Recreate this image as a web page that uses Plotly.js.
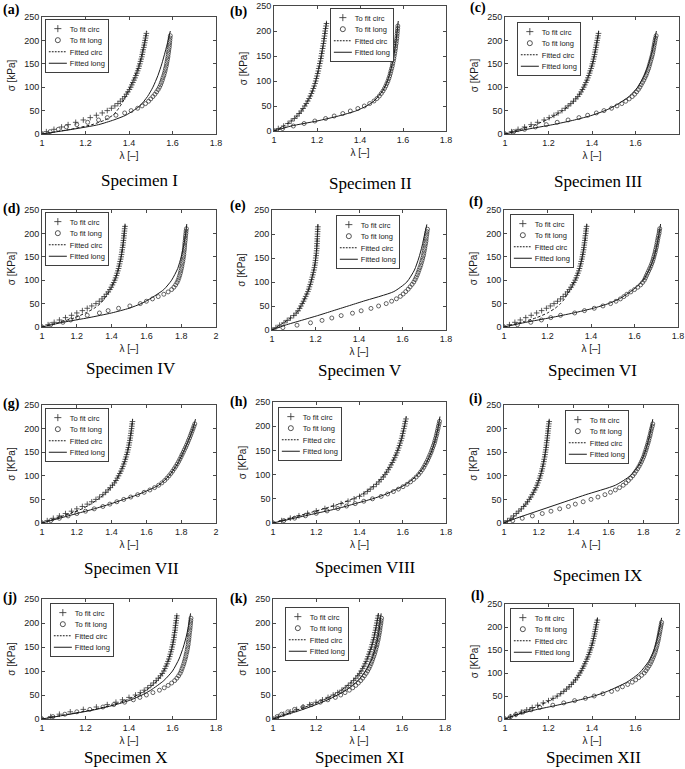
<!DOCTYPE html>
<html><head><meta charset="utf-8">
<script src="https://cdn.plot.ly/plotly-3.0.1.min.js"></script>
<style>html,body{margin:0;padding:0;background:#fff}#chart{width:685px;height:769px}</style>
</head><body><div id="chart"></div>
<script>
// stress levels (kPa) of the experimental samples and of the fitted curves
const circStress = [0,5,10,15,20,25,30,35,40,45,50,55,60,65,70,75,80,85,90,95,100,105,110,115,120,125,130,135,140,145,150,155,160,165,170,175,180,185,190,195,200,205,210,215];
const longStress = [0,5,10,15,20,25,30,35,40,45,50,55,60,65,70,75,80,85,90,95,100,105,110,115,120,125,130,135,140,145,150,155,160,165,170,175,180,185,190,195,200,205,210];
const fitStress  = [0,10,20,30,40,50,60,80,100,125,150,175,200,220];

const specimenNames = ['Specimen I','Specimen II','Specimen III','Specimen IV','Specimen V','Specimen VI',
  'Specimen VII','Specimen VIII','Specimen IX','Specimen X','Specimen XI','Specimen XII'];
const panelLetters = ['(a)','(b)','(c)','(d)','(e)','(f)','(g)','(h)','(i)','(j)','(k)','(l)'];
const yTitles = ['σ [kPa]','σ [KPa]','σ [KPa]','σ [KPa]','σ [KPa]','σ [KPa]','σ [KPa]','σ [KPa]','σ [KPa]','σ [KPa]','σ [KPa]','σ [KPa]'];
const xTitle = 'λ [–]';
const xUpper = [1.8,1.8,1.8,2,1.8,1.8,2,1.8,2,1.8,1.8,1.8];
const legendNames = ['To fit circ','To fit long','Fitted circ','Fitted long'];

// stretch λ at the stress levels above
const circA = [1,1.02,1.055,1.09,1.12,1.155,1.19,1.222,1.25,1.277,1.3,1.319,1.335,1.349,1.36,1.371,1.38,1.388,1.395,1.402,1.408,1.413,1.418,1.423,1.428,1.432,1.436,1.44,1.444,1.447,1.45,1.453,1.456,1.459,1.461,1.463,1.465,1.468,1.47,1.472,1.474,1.476,1.478,1.48];
const longA = [1,1.037,1.075,1.112,1.16,1.21,1.26,1.3,1.34,1.38,1.41,1.44,1.46,1.476,1.49,1.5,1.51,1.519,1.527,1.534,1.54,1.545,1.549,1.553,1.556,1.56,1.563,1.566,1.568,1.571,1.573,1.575,1.577,1.579,1.58,1.582,1.583,1.585,1.586,1.587,1.588,1.589,1.59];
const fitCircA = [1,1.13,1.23,1.29,1.325,1.345,1.36,1.385,1.405,1.428,1.447,1.462,1.474,1.482];
const fitLongA = [1,1.14,1.26,1.33,1.385,1.42,1.45,1.485,1.51,1.533,1.551,1.566,1.58,1.59];

const circB = [1,1.02,1.045,1.065,1.08,1.095,1.107,1.117,1.127,1.135,1.143,1.15,1.157,1.163,1.169,1.174,1.179,1.183,1.187,1.191,1.194,1.197,1.2,1.203,1.206,1.208,1.211,1.213,1.216,1.218,1.22,1.222,1.224,1.226,1.228,1.23,1.232,1.233,1.235,1.237,1.238,1.24,1.242,1.244];
const longB = [1,1.04,1.09,1.14,1.19,1.24,1.28,1.32,1.355,1.39,1.42,1.445,1.465,1.479,1.49,1.499,1.507,1.514,1.52,1.525,1.53,1.534,1.538,1.541,1.544,1.547,1.55,1.552,1.555,1.557,1.559,1.561,1.563,1.565,1.566,1.568,1.569,1.571,1.572,1.573,1.574,1.575,1.576];
const fitCircB = [1,1.045,1.08,1.107,1.127,1.143,1.157,1.179,1.194,1.208,1.22,1.23,1.238,1.245];
const fitLongB = [1,1.08,1.2,1.3,1.38,1.43,1.465,1.505,1.528,1.545,1.557,1.566,1.573,1.578];

const circC = [1,1.03,1.06,1.09,1.12,1.15,1.18,1.203,1.225,1.244,1.262,1.277,1.29,1.303,1.315,1.325,1.335,1.343,1.35,1.356,1.362,1.367,1.372,1.377,1.381,1.385,1.389,1.392,1.396,1.399,1.402,1.405,1.407,1.41,1.412,1.414,1.416,1.418,1.42,1.422,1.424,1.426,1.428,1.43];
const longC = [1,1.04,1.09,1.14,1.19,1.24,1.29,1.34,1.38,1.42,1.455,1.49,1.515,1.537,1.555,1.571,1.585,1.596,1.605,1.613,1.62,1.626,1.632,1.638,1.643,1.648,1.652,1.656,1.66,1.663,1.666,1.669,1.672,1.675,1.678,1.68,1.682,1.684,1.686,1.688,1.69,1.692,1.695];
const fitCircC = [1,1.07,1.14,1.19,1.23,1.265,1.292,1.335,1.362,1.385,1.402,1.414,1.424,1.431];
const fitLongC = [1,1.1,1.22,1.32,1.4,1.46,1.505,1.57,1.61,1.64,1.661,1.676,1.688,1.696];

const circD = [1,1.035,1.07,1.1,1.135,1.17,1.2,1.232,1.26,1.286,1.31,1.329,1.345,1.358,1.37,1.381,1.39,1.398,1.405,1.412,1.418,1.423,1.428,1.432,1.436,1.44,1.443,1.446,1.449,1.452,1.455,1.457,1.459,1.461,1.463,1.465,1.467,1.468,1.47,1.471,1.472,1.474,1.475,1.477];
const longD = [1,1.05,1.12,1.165,1.205,1.26,1.33,1.38,1.44,1.505,1.565,1.6,1.635,1.668,1.7,1.725,1.745,1.758,1.768,1.776,1.782,1.787,1.791,1.795,1.798,1.801,1.804,1.806,1.809,1.811,1.813,1.815,1.816,1.818,1.819,1.82,1.821,1.823,1.824,1.825,1.827,1.828,1.83];
const fitCircD = [1,1.1,1.19,1.25,1.3,1.335,1.358,1.392,1.418,1.44,1.455,1.466,1.473,1.478];
const fitLongD = [1,1.12,1.27,1.4,1.5,1.57,1.62,1.7,1.745,1.78,1.8,1.815,1.826,1.832];

const circE = [1,1.018,1.035,1.055,1.07,1.085,1.1,1.111,1.12,1.127,1.133,1.139,1.145,1.15,1.155,1.16,1.165,1.169,1.172,1.176,1.179,1.182,1.185,1.188,1.19,1.193,1.195,1.197,1.199,1.2,1.201,1.203,1.204,1.205,1.206,1.206,1.207,1.208,1.208,1.209,1.209,1.21,1.21,1.211];
const longE = [1,1.05,1.115,1.177,1.23,1.275,1.318,1.37,1.41,1.455,1.49,1.525,1.55,1.572,1.59,1.603,1.615,1.626,1.635,1.644,1.652,1.658,1.663,1.668,1.672,1.676,1.68,1.684,1.687,1.69,1.693,1.696,1.698,1.7,1.702,1.704,1.706,1.708,1.709,1.71,1.712,1.713,1.715];
const fitCircE = [1,1.035,1.07,1.1,1.12,1.133,1.145,1.165,1.179,1.192,1.201,1.206,1.209,1.211];
const fitLongE = [1,1.06,1.135,1.21,1.28,1.35,1.42,1.56,1.62,1.655,1.675,1.69,1.702,1.712];

const circF = [1,1.025,1.05,1.075,1.1,1.125,1.15,1.173,1.195,1.213,1.23,1.246,1.26,1.272,1.283,1.292,1.3,1.308,1.315,1.321,1.327,1.332,1.336,1.34,1.344,1.347,1.35,1.353,1.355,1.358,1.36,1.362,1.364,1.366,1.367,1.369,1.37,1.372,1.373,1.374,1.376,1.377,1.378,1.38];
const longF = [1,1.062,1.123,1.172,1.215,1.26,1.325,1.37,1.415,1.455,1.49,1.515,1.535,1.551,1.565,1.583,1.6,1.615,1.628,1.637,1.645,1.65,1.655,1.66,1.665,1.67,1.675,1.679,1.683,1.686,1.689,1.692,1.695,1.697,1.7,1.702,1.704,1.706,1.708,1.71,1.713,1.714,1.716];
const fitCircF = [1,1.08,1.15,1.2,1.235,1.26,1.278,1.305,1.327,1.347,1.36,1.37,1.377,1.381];
const fitLongF = [1,1.1,1.215,1.32,1.41,1.48,1.53,1.595,1.64,1.67,1.69,1.703,1.713,1.72];

const circG = [1,1.03,1.065,1.1,1.135,1.17,1.2,1.232,1.26,1.286,1.31,1.331,1.35,1.366,1.38,1.393,1.405,1.416,1.425,1.433,1.44,1.447,1.454,1.46,1.465,1.47,1.475,1.479,1.483,1.487,1.491,1.494,1.497,1.5,1.502,1.505,1.507,1.509,1.511,1.513,1.515,1.516,1.518,1.52];
const longG = [1,1.05,1.1,1.15,1.2,1.25,1.3,1.35,1.39,1.43,1.47,1.51,1.55,1.587,1.62,1.647,1.67,1.689,1.705,1.718,1.73,1.741,1.751,1.76,1.769,1.777,1.785,1.792,1.799,1.805,1.812,1.818,1.825,1.831,1.837,1.842,1.848,1.853,1.858,1.863,1.868,1.873,1.878];
const fitCircG = [1,1.08,1.16,1.23,1.28,1.32,1.355,1.405,1.44,1.47,1.49,1.505,1.515,1.521];
const fitLongG = [1,1.1,1.2,1.3,1.39,1.47,1.55,1.67,1.73,1.778,1.812,1.842,1.868,1.882];

const circH = [1,1.04,1.08,1.12,1.16,1.2,1.24,1.28,1.315,1.347,1.375,1.4,1.42,1.436,1.45,1.465,1.478,1.49,1.5,1.51,1.518,1.526,1.533,1.54,1.546,1.552,1.558,1.563,1.568,1.573,1.577,1.581,1.585,1.588,1.592,1.595,1.598,1.6,1.603,1.605,1.608,1.61,1.612,1.615];
const longH = [1,1.05,1.1,1.15,1.2,1.25,1.3,1.34,1.38,1.42,1.46,1.5,1.53,1.557,1.58,1.601,1.62,1.636,1.65,1.662,1.673,1.682,1.69,1.697,1.703,1.709,1.715,1.72,1.725,1.73,1.734,1.738,1.742,1.746,1.749,1.752,1.755,1.758,1.76,1.763,1.765,1.768,1.77];
const fitCircH = [1,1.08,1.16,1.24,1.31,1.37,1.415,1.475,1.515,1.55,1.576,1.595,1.608,1.617];
const fitLongH = [1,1.1,1.2,1.3,1.38,1.46,1.525,1.615,1.67,1.71,1.735,1.752,1.765,1.772];

const circI = [1,1.02,1.04,1.055,1.07,1.085,1.1,1.113,1.125,1.135,1.145,1.154,1.162,1.17,1.177,1.184,1.19,1.195,1.2,1.205,1.209,1.213,1.217,1.22,1.223,1.226,1.229,1.231,1.234,1.236,1.238,1.24,1.242,1.244,1.245,1.247,1.249,1.25,1.252,1.253,1.255,1.256,1.258,1.26];
const longI = [1,1.05,1.105,1.163,1.22,1.27,1.32,1.37,1.41,1.455,1.5,1.54,1.58,1.612,1.64,1.664,1.685,1.701,1.715,1.728,1.74,1.75,1.759,1.768,1.776,1.783,1.79,1.796,1.802,1.807,1.811,1.816,1.82,1.824,1.828,1.832,1.835,1.839,1.842,1.845,1.848,1.852,1.855];
const fitCircI = [1,1.045,1.075,1.1,1.125,1.145,1.162,1.19,1.209,1.225,1.238,1.247,1.254,1.26];
const fitLongI = [1,1.07,1.15,1.23,1.31,1.39,1.47,1.64,1.725,1.78,1.81,1.83,1.845,1.855];

const circJ = [1,1.04,1.08,1.13,1.19,1.25,1.3,1.34,1.37,1.4,1.43,1.452,1.47,1.486,1.5,1.513,1.525,1.535,1.545,1.553,1.56,1.565,1.57,1.575,1.579,1.583,1.587,1.59,1.593,1.596,1.598,1.601,1.603,1.605,1.607,1.608,1.61,1.612,1.613,1.614,1.616,1.617,1.619,1.62];
const longJ = [1,1.05,1.105,1.16,1.22,1.28,1.33,1.38,1.42,1.45,1.48,1.51,1.54,1.562,1.58,1.596,1.61,1.62,1.628,1.635,1.64,1.644,1.648,1.652,1.655,1.658,1.661,1.663,1.666,1.668,1.67,1.672,1.673,1.675,1.676,1.677,1.678,1.68,1.681,1.682,1.683,1.684,1.685];
const fitCircJ = [1,1.12,1.24,1.33,1.39,1.44,1.48,1.53,1.56,1.583,1.598,1.608,1.615,1.621];
const fitLongJ = [1,1.13,1.25,1.34,1.41,1.46,1.5,1.56,1.6,1.63,1.65,1.665,1.676,1.683];

const circK = [1,1.025,1.05,1.08,1.11,1.14,1.17,1.2,1.23,1.256,1.28,1.301,1.32,1.336,1.35,1.363,1.375,1.385,1.395,1.403,1.41,1.417,1.423,1.428,1.433,1.438,1.442,1.446,1.45,1.454,1.458,1.461,1.464,1.467,1.47,1.472,1.474,1.477,1.479,1.481,1.483,1.485,1.487,1.49];
const longK = [1,1.019,1.04,1.069,1.1,1.14,1.18,1.22,1.255,1.29,1.315,1.335,1.355,1.371,1.385,1.397,1.408,1.417,1.425,1.433,1.44,1.446,1.451,1.456,1.46,1.464,1.468,1.472,1.475,1.478,1.481,1.484,1.486,1.489,1.491,1.493,1.495,1.497,1.498,1.5,1.502,1.503,1.505];
const fitCircK = [1,1.06,1.12,1.18,1.235,1.28,1.318,1.372,1.408,1.438,1.458,1.472,1.483,1.49];
const fitLongK = [1,1.07,1.14,1.2,1.255,1.3,1.34,1.395,1.43,1.46,1.478,1.49,1.498,1.503];

const circL = [1,1.025,1.05,1.075,1.1,1.125,1.15,1.176,1.2,1.221,1.24,1.256,1.27,1.283,1.295,1.305,1.315,1.324,1.332,1.339,1.345,1.351,1.357,1.362,1.367,1.372,1.377,1.381,1.385,1.389,1.392,1.396,1.399,1.402,1.405,1.407,1.41,1.412,1.414,1.416,1.418,1.42,1.422,1.425];
const longL = [1,1.025,1.05,1.082,1.12,1.16,1.22,1.27,1.32,1.37,1.41,1.45,1.49,1.517,1.54,1.564,1.585,1.601,1.615,1.628,1.64,1.648,1.655,1.662,1.668,1.673,1.678,1.682,1.686,1.69,1.693,1.696,1.699,1.701,1.704,1.706,1.708,1.71,1.712,1.714,1.716,1.718,1.72];
const fitCircL = [1,1.055,1.11,1.16,1.205,1.242,1.27,1.315,1.345,1.37,1.393,1.407,1.418,1.425];
const fitLongL = [1,1.06,1.14,1.24,1.33,1.41,1.47,1.56,1.618,1.66,1.685,1.7,1.712,1.72];

const circAll = [circA,circB,circC,circD,circE,circF,circG,circH,circI,circJ,circK,circL];
const longAll = [longA,longB,longC,longD,longE,longF,longG,longH,longI,longJ,longK,longL];
const fitCircAll = [fitCircA,fitCircB,fitCircC,fitCircD,fitCircE,fitCircF,fitCircG,fitCircH,fitCircI,fitCircJ,fitCircK,fitCircL];
const fitLongAll = [fitLongA,fitLongB,fitLongC,fitLongD,fitLongE,fitLongF,fitLongG,fitLongH,fitLongI,fitLongJ,fitLongK,fitLongL];

// ---- layout geometry (pixels) ----
const W = 685, H = 769;
const boxes = [
  [42,216,17,134],[274,446,6,131],[505,679,17,134],
  [42,216,210,327],[272,446,210,330],[504,678,210,327],
  [42,216,405,523],[273,446,402,523],[504,678,405,523],
  [42,216,599,719],[273,445,599,719],[505,679,604,719]
];
const legendPos = [[45,19],[330,8],[517,22],[45,212],[336,215],[510,214],[45,408],[278,407],[565,410],[50,603],[285,607],[510,608]];
const letterPos = [[1,10],[228,12],[468,8],[1,209],[228,206],[467,202],[1,404],[228,402],[467,399],[1,598],[228,599],[469,596]];
const titlePos = [[139,180],[370,183],[598,182],[131,368],[360,370],[592,370],[131,568],[366,567],[597,575],[126,757],[360,757],[593,757]];
const LEGEND_SCALE = 0.6;
const LEGEND_MARKER_SCALE = 0.7;
const LEGEND_LINE_WIDTH = '1.7px';

const ink = '#1a1a1a';
const markInk = '#333333';
const sans = 'Liberation Sans, Arial, Helvetica, sans-serif';
const serif = 'Liberation Serif, Times New Roman, serif';
const tickFont = {family:sans, size:9, color:ink};
const traces = [];
const layout = {
  width:W, height:H, margin:{l:0,r:0,t:0,b:0},
  paper_bgcolor:'#fff', plot_bgcolor:'#fff', showlegend:true,
  annotations:[]
};

for (let i = 0; i < 12; i++) {
  const n = i === 0 ? '' : String(i+1);
  const xa = 'x' + n, ya = 'y' + n;
  const lg = 'legend' + n;
  const b = boxes[i];
  layout['xaxis' + n] = {
    domain:[b[0]/W, b[1]/W], range:[1, xUpper[i]], dtick:0.2, tick0:1,
    anchor:ya, showline:true, mirror:'ticks', linecolor:ink, linewidth:0.8,
    ticks:'inside', ticklen:3, tickwidth:0.8, tickcolor:ink, showgrid:false, zeroline:false,
    tickfont:tickFont, fixedrange:true,
    title:{text:xTitle, font:{family:sans, size:10, color:ink}, standoff:5}
  };
  layout['yaxis' + n] = {
    domain:[1 - b[3]/H, 1 - b[2]/H], range:[0, 250], dtick:50,
    anchor:xa, showline:true, mirror:'ticks', linecolor:ink, linewidth:0.8,
    ticks:'inside', ticklen:3, tickwidth:0.8, tickcolor:ink, showgrid:false, zeroline:false,
    tickfont:tickFont, fixedrange:true,
    title:{text:yTitles[i], font:{family:sans, size:10, color:ink}, standoff:6}
  };
  layout[lg] = {
    x:legendPos[i][0]/W, y:1 - legendPos[i][1]/H, xanchor:'left', yanchor:'top',
    bgcolor:'#ffffff', bordercolor:ink, borderwidth:1.4,
    font:{family:sans, size:12.5, color:ink},
    tracegroupgap:0, itemwidth:30, traceorder:'normal', itemsizing:'constant'
  };
  traces.push({
    type:'scatter', mode:'markers', name:legendNames[0], x:circAll[i], y:circStress,
    xaxis:xa, yaxis:ya, legend:lg, cliponaxis:true,
    marker:{symbol:'cross-thin-open', size:4, color:markInk, line:{width:0.8, color:markInk}}
  });
  traces.push({
    type:'scatter', mode:'markers', name:legendNames[1], x:longAll[i], y:longStress,
    xaxis:xa, yaxis:ya, legend:lg, cliponaxis:true,
    marker:{symbol:'circle-open', size:4, color:markInk, line:{width:0.75, color:markInk}}
  });
  traces.push({
    type:'scatter', mode:'lines', name:legendNames[2], x:fitCircAll[i], y:fitStress,
    xaxis:xa, yaxis:ya, legend:lg,
    line:{color:ink, width:1, dash:'3px,2px', shape:'spline', smoothing:0.6}
  });
  traces.push({
    type:'scatter', mode:'lines', name:legendNames[3], x:fitLongAll[i], y:fitStress,
    xaxis:xa, yaxis:ya, legend:lg,
    line:{color:ink, width:1, shape:'spline', smoothing:0.6}
  });
  layout.annotations.push({
    xref:'paper', yref:'paper', x:letterPos[i][0]/W, y:1 - letterPos[i][1]/H,
    xanchor:'left', yanchor:'middle', showarrow:false, text:'<b>' + panelLetters[i] + '</b>',
    font:{family:serif, size:14, color:'#000'}
  });
  layout.annotations.push({
    xref:'paper', yref:'paper', x:titlePos[i][0]/W, y:1 - titlePos[i][1]/H,
    xanchor:'center', yanchor:'middle', showarrow:false, text:specimenNames[i],
    font:{family:serif, size:17, color:'#000'}
  });
}

function withScale(el, s) {
  const t = (el.getAttribute('transform') || '').replace(/\s*scale\([^)]*\)/g, '');
  el.setAttribute('transform', (t + ' scale(' + s + ')').trim());
}

function shrinkLegends(gd) {
  gd.querySelectorAll('g.infolayer > g').forEach(function (g) {
    const c = g.getAttribute('class') || '';
    if (/^legend\d*$/.test(c)) {
      withScale(g, LEGEND_SCALE);
      g.querySelectorAll('path.js-line').forEach(function (p) { p.style.strokeWidth = LEGEND_LINE_WIDTH; });
      g.querySelectorAll('path.scatterpts').forEach(function (p) { withScale(p, LEGEND_MARKER_SCALE); });
    }
  });
}

Plotly.newPlot('chart', traces, layout, {staticPlot:true, displayModeBar:false}).then(function (gd) {
  shrinkLegends(gd);
  gd.on('plotly_afterplot', function () { shrinkLegends(gd); });
});
</script>
</body></html>
